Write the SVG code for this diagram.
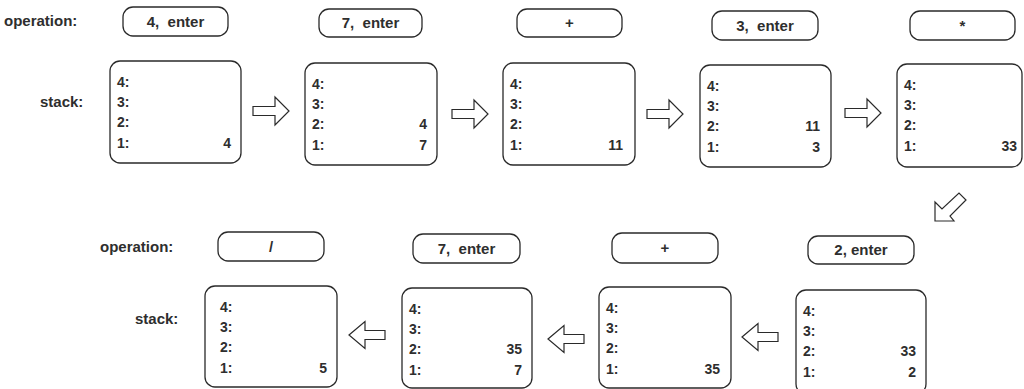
<svg xmlns="http://www.w3.org/2000/svg" width="1024" height="389" viewBox="0 0 1024 389">
  <style>
    text { font-family: "Liberation Sans", Arial, sans-serif; font-weight: bold; fill: #2e2e2e; }
    .lbl { font-size: 15px; }
    .op { font-size: 15px; text-anchor: middle; white-space: pre; }
    .row { font-size: 14px; }
    .val { font-size: 14px; text-anchor: end; }
    .pill, .box { fill: #fff; stroke: #2a2a2a; stroke-width: 1.3; }
    .arr { fill: #fff; stroke: #2a2a2a; stroke-width: 1.2; stroke-linejoin: miter; }
  </style>
  <defs>
    <path id="arrowR" d="M0,-4.5 H22 V-14 L36,0 L22,14 V4.5 H0 Z"/>
    <path id="arrowL" d="M0,0 L16,-13.5 V-4.5 H36 V4.5 H16 V13.5 Z"/>
  </defs>
  <rect width="1024" height="389" fill="#fff"/>

  <!-- row captions -->
  <text class="lbl" x="4" y="26">operation:</text>
  <text class="lbl" x="40" y="107">stack:</text>
  <text class="lbl" x="100" y="252">operation:</text>
  <text class="lbl" x="135" y="324">stack:</text>

  <!-- top row: 4 enter, 7 enter, +, 3 enter, * -->
  <g id="step1">
    <rect class="pill" x="123" y="7" width="105" height="29" rx="10"/>
    <text class="op" x="175.5" y="27">4,  enter</text>
    <rect class="box" x="110" y="61" width="131" height="102" rx="10"/>
    <text class="row" x="117" y="87">4:</text>
    <text class="row" x="117" y="107">3:</text>
    <text class="row" x="117" y="127">2:</text>
    <text class="row" x="117" y="148">1:</text>
    <text class="val" x="231" y="148">4</text>
  </g>
  <g id="step2">
    <rect class="pill" x="319" y="9" width="103" height="28" rx="10"/>
    <text class="op" x="370.5" y="28">7,  enter</text>
    <rect class="box" x="305" y="63" width="132" height="102" rx="10"/>
    <text class="row" x="312" y="89">4:</text>
    <text class="row" x="312" y="109">3:</text>
    <text class="row" x="312" y="129">2:</text>
    <text class="row" x="312" y="150">1:</text>
    <text class="val" x="427" y="129">4</text>
    <text class="val" x="427" y="150">7</text>
  </g>
  <g id="step3">
    <rect class="pill" x="517" y="9" width="105" height="28" rx="10"/>
    <text class="op" x="569.5" y="28">+</text>
    <rect class="box" x="503" y="63" width="132" height="102" rx="10"/>
    <text class="row" x="510" y="89">4:</text>
    <text class="row" x="510" y="109">3:</text>
    <text class="row" x="510" y="129">2:</text>
    <text class="row" x="510" y="150">1:</text>
    <text class="val" x="623" y="150">11</text>
  </g>
  <g id="step4">
    <rect class="pill" x="712" y="11" width="106" height="29" rx="10"/>
    <text class="op" x="765" y="31">3,  enter</text>
    <rect class="box" x="700" y="65" width="131" height="102" rx="10"/>
    <text class="row" x="707" y="91">4:</text>
    <text class="row" x="707" y="111">3:</text>
    <text class="row" x="707" y="131">2:</text>
    <text class="row" x="707" y="152">1:</text>
    <text class="val" x="820" y="131">11</text>
    <text class="val" x="820" y="152">3</text>
  </g>
  <g id="step5">
    <rect class="pill" x="910" y="11" width="105" height="29" rx="10"/>
    <text class="op" x="962.5" y="31">*</text>
    <rect class="box" x="897" y="64" width="125" height="103" rx="10"/>
    <text class="row" x="904" y="90">4:</text>
    <text class="row" x="904" y="110">3:</text>
    <text class="row" x="904" y="130">2:</text>
    <text class="row" x="904" y="151">1:</text>
    <text class="val" x="1017" y="151">33</text>
  </g>

  <!-- bottom row, read right to left: 2 enter, +, 7 enter, / -->
  <g id="step6">
    <rect class="pill" x="808" y="236" width="106" height="28" rx="10"/>
    <text class="op" x="861" y="255">2, enter</text>
    <rect class="box" x="796" y="290" width="130" height="104" rx="10"/>
    <text class="row" x="803" y="316">4:</text>
    <text class="row" x="803" y="336">3:</text>
    <text class="row" x="803" y="356">2:</text>
    <text class="row" x="803" y="377">1:</text>
    <text class="val" x="916" y="356">33</text>
    <text class="val" x="916" y="377">2</text>
  </g>
  <g id="step7">
    <rect class="pill" x="612" y="233" width="106" height="30" rx="10"/>
    <text class="op" x="665" y="253">+</text>
    <rect class="box" x="599" y="287" width="132" height="101" rx="10"/>
    <text class="row" x="606" y="313">4:</text>
    <text class="row" x="606" y="333">3:</text>
    <text class="row" x="606" y="353">2:</text>
    <text class="row" x="606" y="374">1:</text>
    <text class="val" x="720" y="374">35</text>
  </g>
  <g id="step8">
    <rect class="pill" x="413" y="234" width="107" height="29" rx="10"/>
    <text class="op" x="466.5" y="254">7,  enter</text>
    <rect class="box" x="402" y="288" width="130" height="100" rx="10"/>
    <text class="row" x="409" y="314">4:</text>
    <text class="row" x="409" y="334">3:</text>
    <text class="row" x="409" y="354">2:</text>
    <text class="row" x="409" y="375">1:</text>
    <text class="val" x="522" y="354">35</text>
    <text class="val" x="522" y="375">7</text>
  </g>
  <g id="step9">
    <rect class="pill" x="218" y="232" width="106" height="29" rx="10"/>
    <text class="op" x="271" y="252">/</text>
    <rect class="box" x="205" y="286" width="132" height="101" rx="10"/>
    <text class="row" x="220" y="312">4:</text>
    <text class="row" x="220" y="332">3:</text>
    <text class="row" x="220" y="352">2:</text>
    <text class="row" x="220" y="373">1:</text>
    <text class="val" x="327" y="373">5</text>
  </g>

  <!-- hollow block arrows between stack states -->
  <g id="connectors">
    <use href="#arrowR" class="arr" transform="translate(253,111)"/>
    <use href="#arrowR" class="arr" transform="translate(452,114)"/>
    <use href="#arrowR" class="arr" transform="translate(647,114)"/>
    <use href="#arrowR" class="arr" transform="translate(845,113)"/>
    <path class="arr" d="M935,221 L935,202 L942,209 L959,193 L966,200 L950,216 L954,221 Z"/>
    <use href="#arrowL" class="arr" transform="translate(742,337)"/>
    <use href="#arrowL" class="arr" transform="translate(548,339)"/>
    <use href="#arrowL" class="arr" transform="translate(349,335)"/>
  </g>
</svg>
